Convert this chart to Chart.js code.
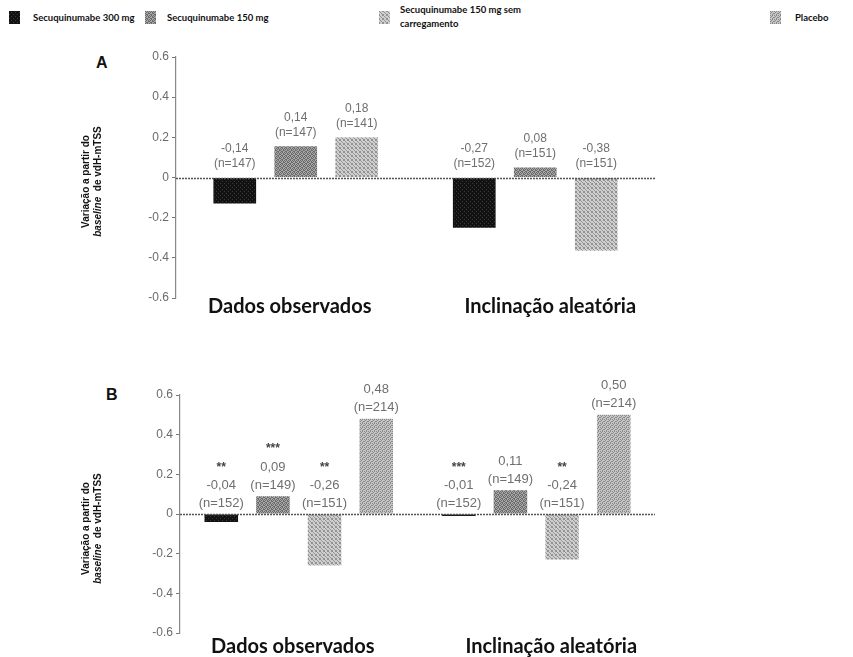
<!DOCTYPE html>
<html>
<head>
<meta charset="utf-8">
<script src="https://cdn.jsdelivr.net/npm/chart.js@4.4.1/dist/chart.umd.min.js"></script>
<style>
  body { margin: 0; background: #fff; width: 853px; height: 657px; position: relative; overflow: hidden; }
  .leg { position: absolute; font-family: Lato, sans-serif; font-weight: bold; font-size: 9.5px; color: #111; line-height: 14px; white-space: nowrap; }
  .sw { position: absolute; width: 11px; height: 13px; }
  .panel { position: absolute; left: 0; width: 853px; }
  .letter { position: absolute; font-family: "Liberation Sans", Arial, sans-serif; font-weight: bold; font-size: 16px; color: #111; }
</style>
</head>
<body>
<div id="legend"></div>
<div class="letter" style="left:96px;top:54px">A</div>
<div class="letter" style="left:106px;top:386px">B</div>
<div class="panel" style="top:40px;height:280px"><canvas id="chartA"></canvas></div>
<div class="panel" style="top:375px;height:282px"><canvas id="chartB"></canvas></div>
<script>
const categories = ['Dados observados', 'Inclinação aleatória'];
const seriesNames = ['Secuquinumabe 300 mg', 'Secuquinumabe 150 mg', 'Secuquinumabe 150 mg sem carregamento', 'Placebo'];

// Panel A - bar heights as drawn, and printed labels
const a300 = [-0.13, -0.25];
const a150 = [0.155, 0.05];
const a150sem = [0.20, -0.365];
const a300Text = [['-0,14', '(n=147)'], ['-0,27', '(n=152)']];
const a150Text = [['0,14', '(n=147)'], ['0,08', '(n=151)']];
const a150semText = [['0,18', '(n=141)'], ['-0,38', '(n=151)']];

// Panel B
const b300 = [-0.04, -0.01];
const b150 = [0.09, 0.12];
const b150sem = [-0.26, -0.23];
const bPlacebo = [0.48, 0.50];
const b300Text = [['**', '-0,04', '(n=152)'], ['***', '-0,01', '(n=152)']];
const b150Text = [['***', '0,09', '(n=149)'], ['0,11', '(n=149)']];
const b150semText = [['**', '-0,26', '(n=151)'], ['**', '-0,24', '(n=151)']];
const bPlaceboText = [['0,48', '(n=214)'], ['0,50', '(n=214)']];

// small halftone tiles so the bars look like the printed figure
function makeTile(c1, c2, mask) {
    const t = document.createElement('canvas');
    t.width = 4; t.height = 4;
    const g = t.getContext('2d');
    g.fillStyle = c1;
    g.fillRect(0, 0, 4, 4);
    g.fillStyle = c2;
    mask.forEach((m, i) => { if (m) g.fillRect(i % 4, Math.floor(i / 4), 1, 1); });
    return t;
}
const tiles = [
    makeTile('#121212', '#3a3a3a', [0,0,0,0, 0,0,1,0, 0,0,0,0, 1,0,0,0]),
    makeTile('#a8a8a8', '#6a6a6a', [1,0,1,0, 0,1,0,1, 1,0,0,1, 0,1,1,0]),
    makeTile('#cfcfcf', '#929292', [1,0,0,1, 0,1,0,0, 0,0,1,0, 1,0,0,1]),
    makeTile('#c6c6c6', '#888888', [1,0,1,0, 0,1,0,0, 1,0,0,1, 0,0,1,0])
];
const ctxTmp = document.createElement('canvas').getContext('2d');
const fills = tiles.map(t => ctxTmp.createPattern(t, 'repeat'));

// legend (HTML)
const legendBox = document.getElementById('legend');
const legendPos = [
    { sw: 9, tx: 33, lines: ['Secuquinumabe 300 mg'] },
    { sw: 145, tx: 167, lines: ['Secuquinumabe 150 mg'] },
    { sw: 379, tx: 400, lines: ['Secuquinumabe 150 mg sem', 'carregamento'] },
    { sw: 770, tx: 795, lines: ['Placebo'] }
];
legendPos.forEach((p, i) => {
    const sw = document.createElement('div');
    sw.className = 'sw';
    sw.style.left = p.sw + 'px';
    sw.style.top = '11px';
    sw.style.backgroundImage = `url(${tiles[i].toDataURL()})`;
    legendBox.appendChild(sw);
    const tx = document.createElement('div');
    tx.className = 'leg';
    tx.style.left = p.tx + 'px';
    tx.style.top = p.lines.length > 1 ? '3px' : '11px';
    tx.innerHTML = p.lines.join('<br>');
    legendBox.appendChild(tx);
});

const valueLabels = {
    id: 'valueLabels',
    afterDatasetsDraw(chart, args, opts) {
        const ctx = chart.ctx;
        ctx.save();
        ctx.textAlign = 'center';
        ctx.textBaseline = 'middle';
        chart.data.datasets.forEach((ds, i) => {
            const meta = chart.getDatasetMeta(i);
            meta.data.forEach((bar, j) => {
                const lines = ds.labelLines[j];
                let y = Math.min(bar.y, bar.base) - opts.gap;
                for (let k = lines.length - 1; k >= 0; k--) {
                    const star = lines[k].startsWith('*');
                    ctx.font = star ? 'bold 12px "Liberation Sans"' : opts.font;
                    ctx.fillStyle = star ? '#444' : '#6f6f6f';
                    ctx.fillText(lines[k], bar.x, y);
                    y -= opts.lineHeight;
                }
            });
        });
        ctx.restore();
    }
};

const panelDecor = {
    id: 'panelDecor',
    afterDatasetsDraw(chart, args, opts) {
        const ctx = chart.ctx;
        const area = chart.chartArea;
        const yScale = chart.scales.y;
        const xScale = chart.scales.x;
        const y0 = Math.round(yScale.getPixelForValue(0)) + 0.5;
        ctx.save();
        // zero line
        ctx.strokeStyle = '#555';
        ctx.lineWidth = 1.5;
        ctx.setLineDash([2, 1]);
        ctx.beginPath();
        ctx.moveTo(area.left, y0);
        ctx.lineTo(area.right, y0);
        ctx.stroke();
        ctx.setLineDash([]);
        // category names under the plot
        ctx.fillStyle = '#111';
        ctx.font = 'bold 20px Lato';
        ctx.textAlign = 'center';
        ctx.textBaseline = 'middle';
        categories.forEach((c, i) => {
            ctx.fillText(c, xScale.getPixelForValue(i) + opts.catOffsets[i], opts.catY);
        });
        // rotated y title, "baseline" in italics
        const cy = y0 + opts.titleShift;
        ctx.translate(opts.titleX, cy);
        ctx.rotate(-Math.PI / 2);
        ctx.font = 'bold 10px "Liberation Sans"';
        ctx.textAlign = 'center';
        ctx.fillText('Variação a partir do', 0, 0);
        const p1 = 'baseline', p2 = '  de vdH-mTSS';
        ctx.font = 'italic bold 10px "Liberation Sans"';
        const w1 = ctx.measureText(p1).width;
        ctx.font = 'bold 10px "Liberation Sans"';
        const w2 = ctx.measureText(p2).width;
        ctx.textAlign = 'left';
        ctx.font = 'italic bold 10px "Liberation Sans"';
        ctx.fillText(p1, -(w1 + w2) / 2, opts.titleGap);
        ctx.font = 'bold 10px "Liberation Sans"';
        ctx.fillText(p2, -(w1 + w2) / 2 + w1, opts.titleGap);
        ctx.restore();
    }
};

function makeChart(id, datasets, cfg) {
    return new Chart(document.getElementById(id), {
        type: 'bar',
        data: { labels: categories, datasets: datasets },
        options: {
            responsive: true,
            maintainAspectRatio: false,
            animation: false,
            layout: { padding: { left: 0, right: 853 - 655, top: cfg.top, bottom: 0 } },
            datasets: { bar: { categoryPercentage: cfg.catPct, barPercentage: cfg.barPct } },
            plugins: {
                legend: { display: false },
                tooltip: { enabled: false },
                valueLabels: cfg.labels,
                panelDecor: cfg.decor
            },
            scales: {
                x: {
                    ticks: { display: false },
                    grid: { display: false },
                    border: { display: false },
                    afterFit: s => { s.height = cfg.xHeight; }
                },
                y: {
                    min: -0.6,
                    max: 0.6,
                    ticks: {
                        stepSize: 0.2,
                        color: '#6a6a6a',
                        font: { family: 'Liberation Sans', size: 12 },
                        padding: 3,
                        callback: v => Math.abs(v) < 1e-9 ? '0' : v.toFixed(1)
                    },
                    grid: { drawOnChartArea: false, drawTicks: true, tickLength: 4, color: '#777' },
                    border: { display: true, color: '#888', dash: [1, 1], width: 1.2 },
                    afterFit: s => { s.width = cfg.left; }
                }
            }
        },
        plugins: [valueLabels, panelDecor]
    });
}

makeChart('chartA', [
    { label: seriesNames[0], data: a300, backgroundColor: fills[0], labelLines: a300Text },
    { label: seriesNames[1], data: a150, backgroundColor: fills[1], labelLines: a150Text },
    { label: seriesNames[2], data: a150sem, backgroundColor: fills[2], labelLines: a150semText }
], {
    top: 17, left: 176, xHeight: 22, catPct: 0.764, barPct: 0.7,
    labels: { gap: 14, lineHeight: 15, font: '12px "Liberation Sans"' },
    decor: { catOffsets: [-6, 15], catY: 267, titleX: 86, titleShift: 3, titleGap: 12 }
});

makeChart('chartB', [
    { label: seriesNames[0], data: b300, backgroundColor: fills[0], labelLines: b300Text },
    { label: seriesNames[1], data: b150, backgroundColor: fills[1], labelLines: b150Text },
    { label: seriesNames[2], data: b150sem, backgroundColor: fills[2], labelLines: b150semText },
    { label: seriesNames[3], data: bPlacebo, backgroundColor: fills[3], labelLines: bPlaceboText }
], {
    top: 20, left: 180, xHeight: 24, catPct: 0.87, barPct: 0.65,
    labels: { gap: 11, lineHeight: 18, font: '13px "Liberation Sans"' },
    decor: { catOffsets: [-6, 15], catY: 272, titleX: 86, titleShift: 14, titleGap: 12 }
});
</script>
</body>
</html>
